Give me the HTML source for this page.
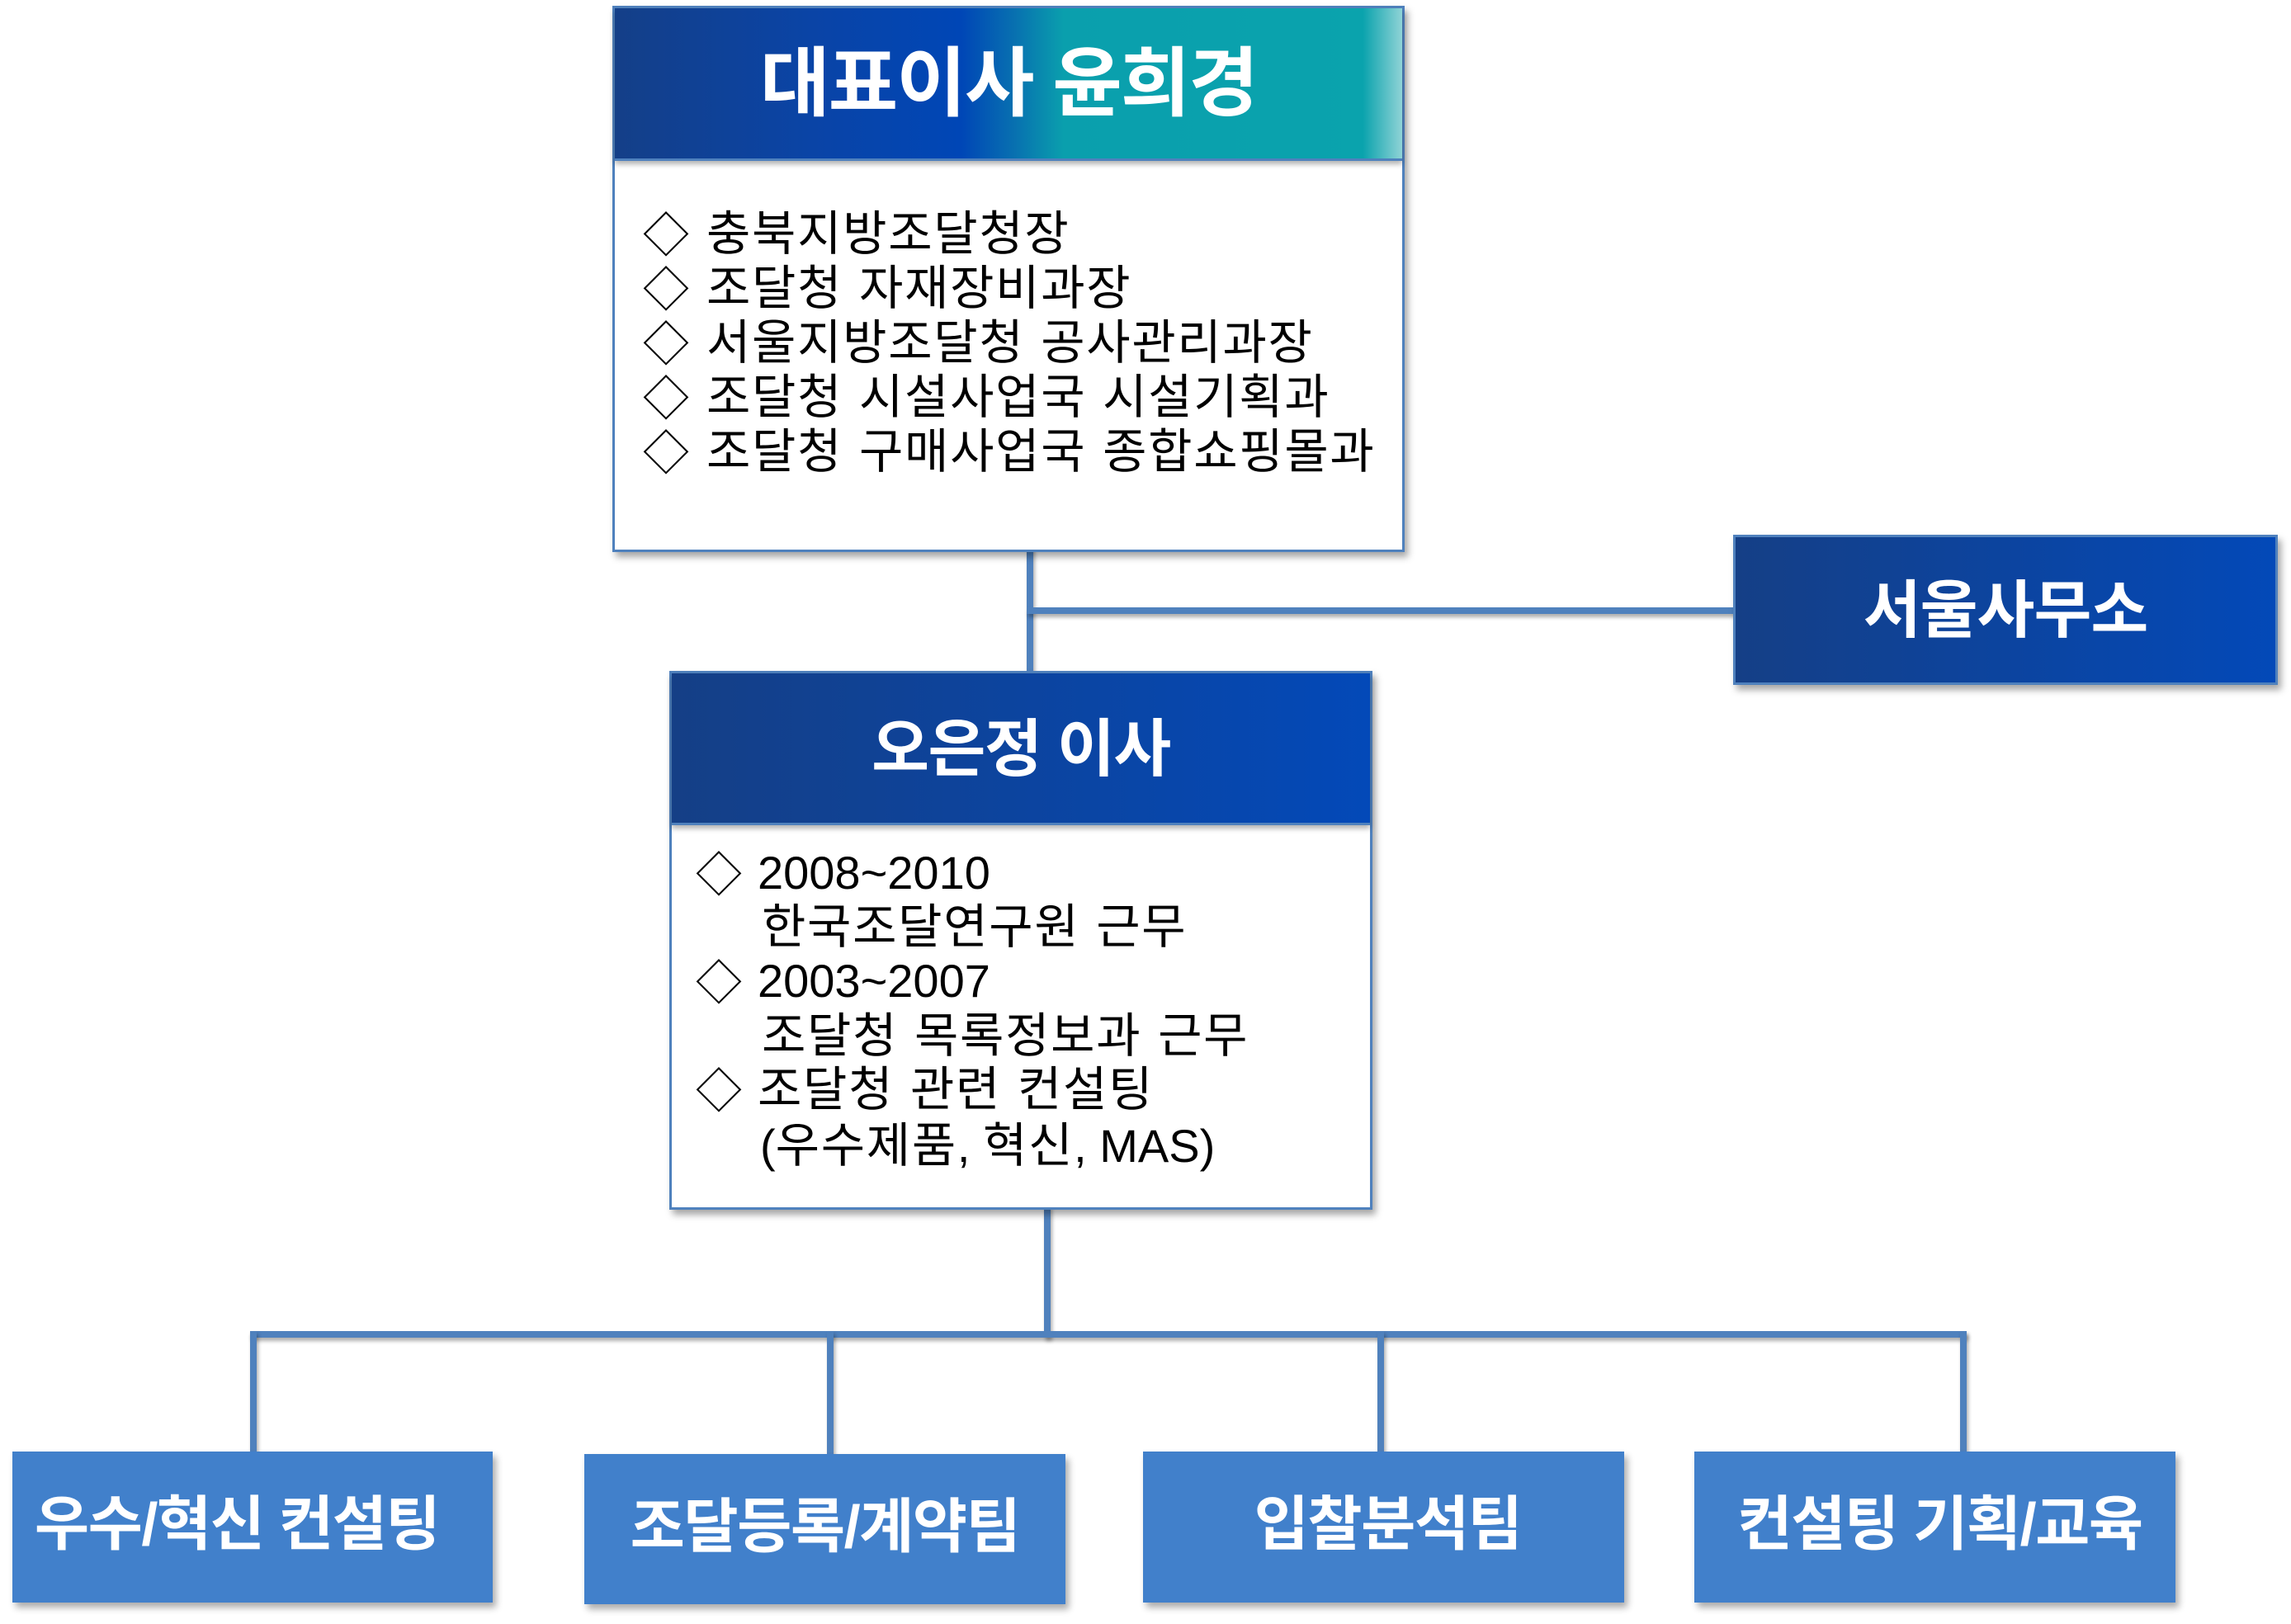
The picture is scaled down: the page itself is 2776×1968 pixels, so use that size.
<!DOCTYPE html>
<html><head><meta charset="utf-8">
<style>
html,body{margin:0;padding:0;}
body{width:2776px;height:1968px;position:relative;background:#fff;overflow:hidden;font-family:"Liberation Sans","Noto Sans CJK KR",sans-serif;}
.ln{position:absolute;background:#4f81bd;box-shadow:2px 4px 5px rgba(0,0,0,0.32);}
.box{position:absolute;box-sizing:border-box;}
.card{background:#fff;border:3px solid #4f81bd;box-shadow:4px 6px 8px rgba(0,0,0,0.35);}
.hdr{position:absolute;left:0;top:0;right:0;box-sizing:border-box;border-bottom:3px solid #4f81bd;box-shadow:0 4px 6px rgba(0,0,0,0.3);display:flex;align-items:center;justify-content:center;color:#fff;font-weight:700;white-space:nowrap;}
.t{position:absolute;font-size:58px;line-height:66px;color:#000;white-space:nowrap;letter-spacing:1.7px;word-spacing:2px;}
.d{position:absolute;font-size:56px;line-height:66px;color:#000;white-space:nowrap;}
.lat{letter-spacing:0;word-spacing:0;font-size:56px;}
.k{letter-spacing:1.7px;}
.s{font-size:56px;}
.bb{position:absolute;box-sizing:border-box;background:#4180cb;box-shadow:4px 6px 8px rgba(0,0,0,0.33);display:flex;align-items:center;justify-content:center;color:#fff;font-weight:700;font-size:72px;letter-spacing:-1.5px;white-space:nowrap;padding-bottom:20px;}
</style>
</head>
<body>

<!-- connectors -->
<div class="ln" style="left:1244px;top:660px;width:8px;height:160px;"></div>
<div class="ln" style="left:1244px;top:736px;width:870px;height:8px;"></div>
<div class="ln" style="left:1265px;top:1460px;width:8px;height:161px;"></div>
<div class="ln" style="left:303px;top:1613px;width:2080px;height:8px;"></div>
<div class="ln" style="left:303px;top:1613px;width:8px;height:150px;"></div>
<div class="ln" style="left:1002px;top:1613px;width:8px;height:152px;"></div>
<div class="ln" style="left:1669px;top:1613px;width:8px;height:150px;"></div>
<div class="ln" style="left:2375px;top:1613px;width:8px;height:150px;"></div>

<!-- top box -->
<div class="box card" style="left:742px;top:7px;width:960px;height:662px;">
  <div class="hdr" style="height:185px;padding-bottom:16px;background:linear-gradient(to right,#143f88 0%,#0a44a6 25%,#0046b6 44%,#0872b0 51%,#0a9fad 57%,#0aa3ad 95%,#8fd3d6 100%);font-size:92px;letter-spacing:-2px;">대표이사 윤희경</div>
</div>
<div class="d" style="left:779px;top:253px;">◇</div>
<div class="t" style="left:856px;top:251px;">충북지방조달청장</div>
<div class="d" style="left:779px;top:319px;">◇</div>
<div class="t" style="left:856px;top:317px;">조달청 자재장비과장</div>
<div class="d" style="left:779px;top:385px;">◇</div>
<div class="t" style="left:856px;top:383px;">서울지방조달청 공사관리과장</div>
<div class="d" style="left:779px;top:451px;">◇</div>
<div class="t" style="left:856px;top:449px;">조달청 시설사업국 시설기획과</div>
<div class="d" style="left:779px;top:517px;">◇</div>
<div class="t" style="left:856px;top:515px;">조달청 구매사업국 종합쇼핑몰과</div>

<!-- Seoul office -->
<div class="box" style="left:2100px;top:648px;width:660px;height:182px;border:3px solid #4f81bd;background:linear-gradient(to right,#153f86,#0349b8);box-shadow:4px 6px 8px rgba(0,0,0,0.35);display:flex;align-items:center;justify-content:center;color:#fff;font-weight:700;font-size:76px;letter-spacing:-1px;white-space:nowrap;padding-bottom:12px;">서울사무소</div>

<!-- second box -->
<div class="box card" style="left:811px;top:813px;width:852px;height:653px;">
  <div class="hdr" style="height:184px;padding-bottom:12px;background:linear-gradient(to right,#153f86,#0349b8);font-size:76px;letter-spacing:-1.5px;">오은정 이사</div>
</div>
<div class="d" style="left:843px;top:1028px;">◇</div>
<div class="t lat" style="left:918px;top:1025px;">2008~2010</div>
<div class="t" style="left:923px;top:1091px;">한국조달연구원 근무</div>
<div class="d" style="left:843px;top:1159px;">◇</div>
<div class="t lat" style="left:918px;top:1156px;">2003~2007</div>
<div class="t" style="left:923px;top:1223px;">조달청 목록정보과 근무</div>
<div class="d" style="left:843px;top:1290px;">◇</div>
<div class="t" style="left:918px;top:1288px;">조달청 관련 컨설팅</div>
<div class="t" style="left:921px;top:1356px;letter-spacing:0;word-spacing:0;"><span class="s">(</span><span class="k">우수제품</span><span class="s">, </span><span class="k">혁신</span><span class="s">, MAS)</span></div>

<!-- bottom boxes -->
<div class="bb" style="left:15px;top:1759px;width:582px;height:183px;padding-right:38px;">우수/혁신 컨설팅</div>
<div class="bb" style="left:708px;top:1762px;width:583px;height:182px;">조달등록/계약팀</div>
<div class="bb" style="left:1385px;top:1759px;width:583px;height:183px;padding-left:10px;">입찰분석팀</div>
<div class="bb" style="left:2053px;top:1759px;width:583px;height:183px;padding-left:12px;">컨설팅 기획/교육</div>

</body></html>
